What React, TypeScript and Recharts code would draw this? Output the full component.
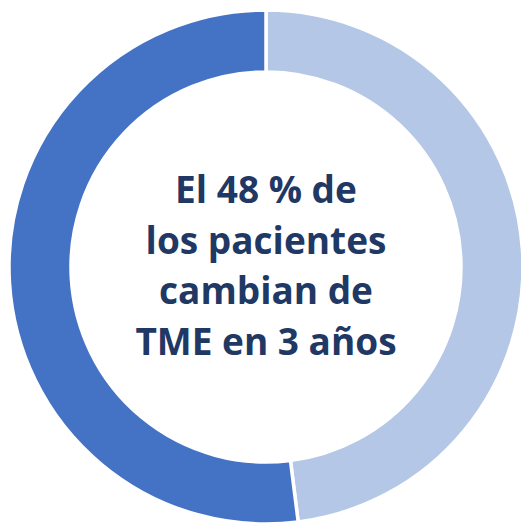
import { PieChart, Pie, Cell, Label } from "recharts";

const segments = ["Cambian de TME", "No cambian"];
const shares = [48, 52];
const colors = ["#B4C7E7", "#4472C4"];
const centerLines = ["El 48 % de", "los pacientes", "cambian de", "TME en 3 años"];

const data = segments.map((name, i) => ({ name, value: shares[i] }));

const CX = 266;
const CY = 267;

const CenterText = () => {
  const gap = 50.7;
  const first = CY - 64;
  return (
    <text
      textAnchor="middle"
      fill="#1F3864"
      fontFamily="'Open Sans', sans-serif"
      fontWeight={700}
      fontSize={37}
    >
      {centerLines.map((line, i) => (
        <tspan key={line} x={CX} y={first + i * gap}>
          {line}
        </tspan>
      ))}
    </text>
  );
};

export default function App() {
  return (
    <div style={{ position: "absolute", left: 0, top: 0 }}>
      <PieChart width={521} height={523} margin={{ top: 0, right: 0, bottom: 0, left: 0 }}>
        <Pie
          data={data}
          dataKey="value"
          cx={CX}
          cy={CY}
          innerRadius={195}
          outerRadius={257}
          startAngle={90}
          endAngle={-270}
          stroke="#ffffff"
          strokeWidth={3.5}
          isAnimationActive={false}
        >
          {data.map((d, i) => (
            <Cell key={d.name} fill={colors[i]} />
          ))}
          <Label position="center" content={<CenterText />} />
        </Pie>
      </PieChart>
    </div>
  );
}
